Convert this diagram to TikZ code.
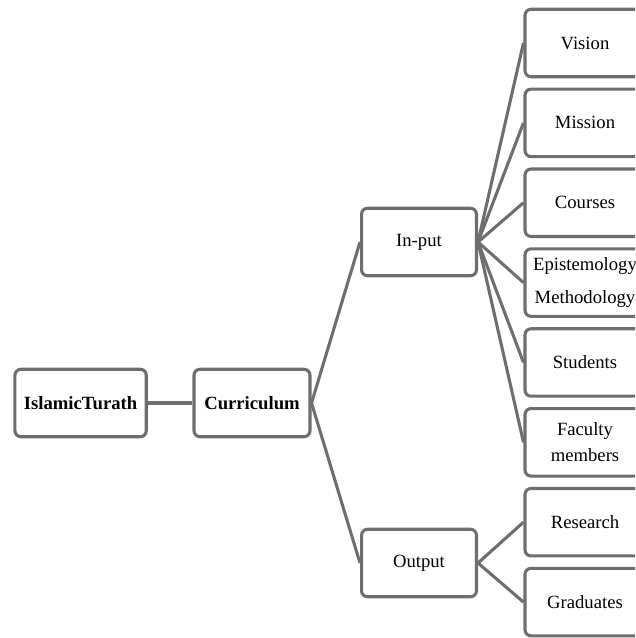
\documentclass[tikz,border=0pt]{standalone}
\usepackage{fontspec}
\setmainfont{Liberation Serif}
\usetikzlibrary{positioning}

\definecolor{boxgray}{HTML}{6E6E6E}

\begin{document}
\begin{tikzpicture}[x=0.75pt,y=-0.75pt,
                    every node/.style={draw=boxgray,line width=2.3pt,rounded corners=4.5pt,
                                       minimum height=50.6pt,inner sep=1pt,align=center,
                                       font=\fontsize{14pt}{19.5pt}\selectfont},
                    link/.style={draw=boxgray,line width=2.3pt},
                    node distance=7pt]

\clip (0,0) rectangle (635,638);

\node[minimum width=87pt] (curr) at (252,403) {\textbf{Curriculum}};
\node[minimum width=98.5pt,left=33.5pt of curr] (turath) {\textbf{IslamicTurath}};
\node[minimum width=86.2pt] (inp) at (419,242) {In-put};
\node[minimum width=86.2pt] (outp) at (419,563) {Output};

\node[minimum width=90pt] (vision) at (585,43) {Vision};
\node[minimum width=90pt,below=of vision] (mission) {Mission};
\node[minimum width=90pt,below=of mission] (courses) {Courses};
\node[minimum width=90pt,below=of courses] (episte) {Epistemology\\[5pt]Methodology};
\node[minimum width=90pt,below=of episte] (students) {Students};
\node[minimum width=90pt,below=of students] (faculty) {Faculty\\members};
\node[minimum width=90pt,below=of faculty] (research) {Research};
\node[minimum width=90pt,below=of research] (grads) {Graduates};

\draw[link] (turath.east) -- (curr.west);
\draw[link] (curr.east) -- (inp.west);
\draw[link] (curr.east) -- (outp.west);
\foreach \n in {vision,mission,courses,episte,students,faculty}
  \draw[link] (inp.east) -- (\n.west);
\foreach \n in {research,grads}
  \draw[link] (outp.east) -- (\n.west);

\end{tikzpicture}
\end{document}
